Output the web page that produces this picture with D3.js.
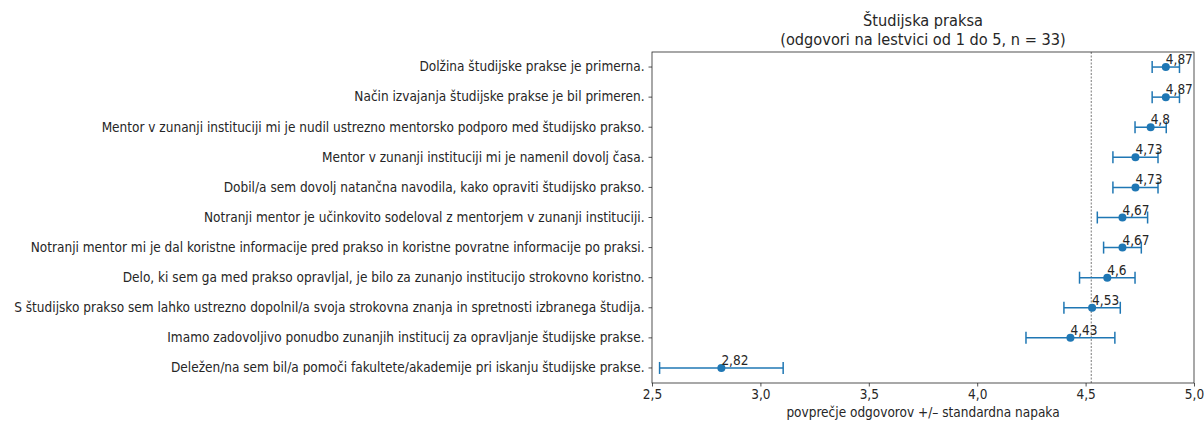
<!DOCTYPE html>
<meta charset="utf-8">
<head>
  <title>studijska praksa</title>
</head>
<style>
  body { margin: 0; background: #fff; }
  text { font-family: "DejaVu Sans Condensed", "DejaVu Sans", sans-serif; fill: #262626; }
</style>
<body>
<svg id="chart" width="1204" height="421"></svg>
<script src="https://cdn.jsdelivr.net/npm/d3@7"></script>
<script>
// questions, from top to bottom
var questions = [
  "Dolžina študijske prakse je primerna.",
  "Način izvajanja študijske prakse je bil primeren.",
  "Mentor v zunanji instituciji mi je nudil ustrezno mentorsko podporo med študijsko prakso.",
  "Mentor v zunanji instituciji mi je namenil dovolj časa.",
  "Dobil/a sem dovolj natančna navodila, kako opraviti študijsko prakso.",
  "Notranji mentor je učinkovito sodeloval z mentorjem v zunanji instituciji.",
  "Notranji mentor mi je dal koristne informacije pred prakso in koristne povratne informacije po praksi.",
  "Delo, ki sem ga med prakso opravljal, je bilo za zunanjo institucijo strokovno koristno.",
  "S študijsko prakso sem lahko ustrezno dopolnil/a svoja strokovna znanja in spretnosti izbranega študija.",
  "Imamo zadovoljivo ponudbo zunanjih institucij za opravljanje študijske prakse.",
  "Deležen/na sem bil/a pomoči fakultete/akademije pri iskanju študijske prakse."
];
var means = [4.87, 4.87, 4.8, 4.73, 4.73, 4.67, 4.67, 4.6, 4.53, 4.43, 2.82];
var stdErr = [0.063, 0.063, 0.072, 0.104, 0.104, 0.116, 0.087, 0.128, 0.13, 0.205, 0.285];
var overallMean = 4.526;
var xTicks = [2.5, 3.0, 3.5, 4.0, 4.5, 5.0];

var margin = {left: 652, right: 10, top: 52, bottom: 38};
var W = 1204, H = 421;
var svg = d3.select("#chart");
var blue = "#1f77b4";

var x = d3.scaleLinear().domain([2.5, 5.0]).range([margin.left, W - margin.right]);
var y = d3.scaleBand().domain(questions).range([margin.top, H - margin.bottom]);
var fmt = function(v){ return String(v).replace(".", ","); };
var fmtTick = function(v){ return d3.format(".1f")(v).replace(".", ","); };

// reference line (overall mean)
svg.append("line")
  .attr("x1", x(overallMean)).attr("x2", x(overallMean))
  .attr("y1", margin.top).attr("y2", H - margin.bottom)
  .attr("stroke", "#555").attr("stroke-width", 0.8)
  .attr("stroke-dasharray", "2,1.5");

var rows = svg.append("g").selectAll("g")
  .data(questions)
  .enter().append("g")
  .attr("transform", function(d){ return "translate(0," + (y(d) + y.bandwidth() / 2) + ")"; });

// error bars
rows.append("line")
  .attr("x1", function(d, i){ return x(means[i] - stdErr[i]); })
  .attr("x2", function(d, i){ return x(means[i] + stdErr[i]); })
  .attr("stroke", blue).attr("stroke-width", 1.5);
rows.each(function(d, i){
  var g = d3.select(this);
  [means[i] - stdErr[i], means[i] + stdErr[i]].forEach(function(v){
    g.append("line")
      .attr("x1", x(v)).attr("x2", x(v))
      .attr("y1", -6).attr("y2", 6)
      .attr("stroke", blue).attr("stroke-width", 1.5);
  });
});
rows.append("circle")
  .attr("cx", function(d, i){ return x(means[i]); })
  .attr("r", 4)
  .attr("fill", blue);
rows.append("text")
  .attr("x", function(d, i){ return x(means[i]); })
  .attr("y", -3)
  .style("font-size", "13.5px")
  .text(function(d, i){ return fmt(means[i]); });

// axes
var xAxis = svg.append("g")
  .attr("transform", "translate(0," + (H - margin.bottom) + ")")
  .call(d3.axisBottom(x).tickValues(xTicks).tickFormat(fmtTick).tickSize(3.5).tickPadding(3));
var yAxis = svg.append("g")
  .attr("transform", "translate(" + margin.left + ",0)")
  .call(d3.axisLeft(y).tickSize(3.5).tickPadding(4));
[xAxis, yAxis].forEach(function(a){
  a.select(".domain").remove();
  a.selectAll("line").attr("stroke", "#262626").attr("stroke-width", 0.8);
  a.selectAll("text").style("font-size", "13.5px").style("font-family", null).attr("fill", "#262626");
});

// frame
svg.append("rect")
  .attr("x", margin.left).attr("y", margin.top)
  .attr("width", W - margin.right - margin.left)
  .attr("height", H - margin.bottom - margin.top)
  .attr("fill", "none").attr("stroke", "#262626").attr("stroke-width", 0.8);

// titles
var cx = (margin.left + W - margin.right) / 2;
svg.append("text").attr("x", cx).attr("y", 26).attr("text-anchor", "middle")
  .style("font-size", "16.2px").text("Študijska praksa");
svg.append("text").attr("x", cx).attr("y", 45).attr("text-anchor", "middle")
  .style("font-size", "16.2px").text("(odgovori na lestvici od 1 do 5, n = 33)");
svg.append("text").attr("x", cx).attr("y", 417).attr("text-anchor", "middle")
  .style("font-size", "13.5px").text("povprečje odgovorov +/\u2013 standardna napaka");
</script>
</body>
</html>
